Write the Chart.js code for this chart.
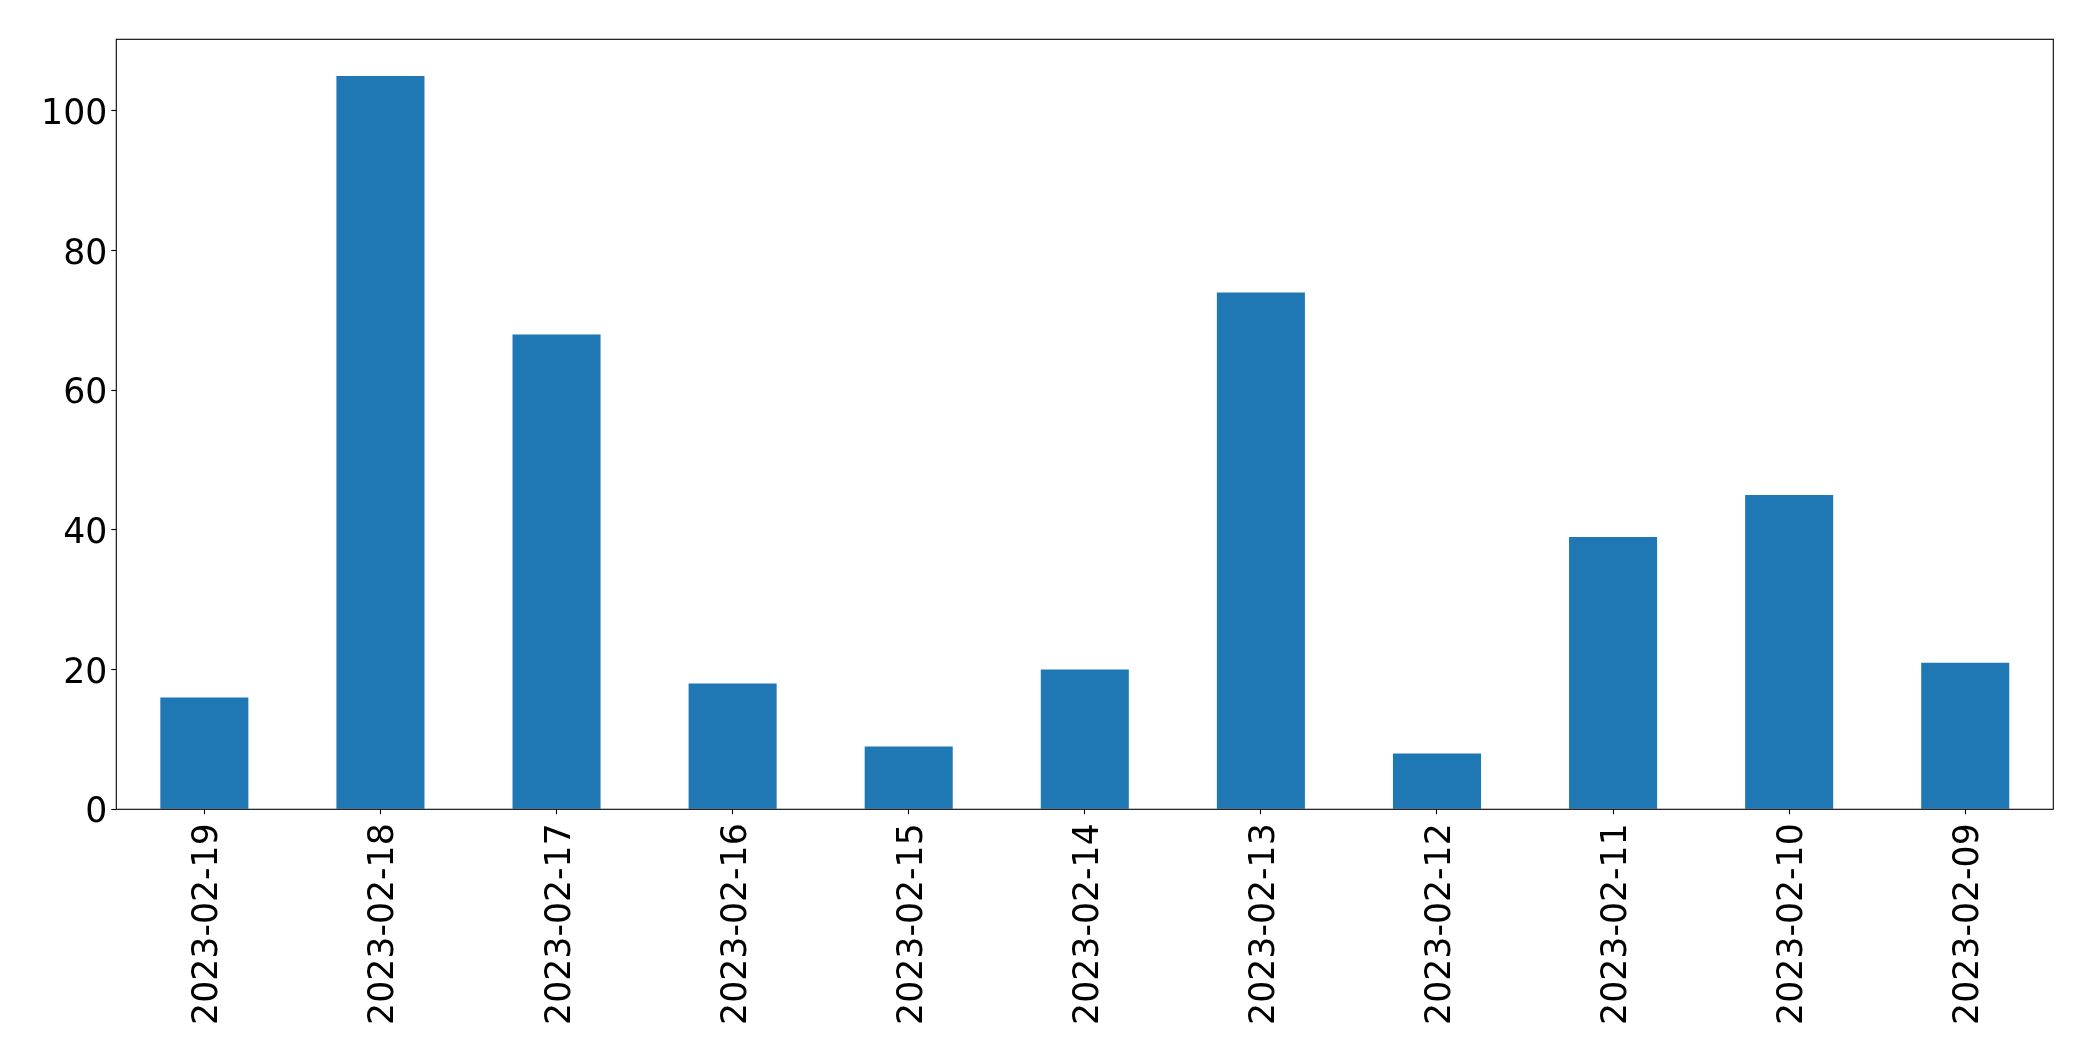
<!DOCTYPE html>
<html>
<head>
<meta charset="utf-8">
<script src="https://cdn.jsdelivr.net/npm/chart.js@4/dist/chart.umd.min.js"></script>
<style>
  html, body { margin: 0; padding: 0; background: #ffffff; }
  #wrap { width: 2093px; height: 1061px; }
</style>
</head>
<body>
<div id="wrap"><canvas id="c" width="2093" height="1061"></canvas></div>
<script>
const categories = ["2023-02-19","2023-02-18","2023-02-17","2023-02-16","2023-02-15","2023-02-14","2023-02-13","2023-02-12","2023-02-11","2023-02-10","2023-02-09"];
const counts = [16, 105, 68, 18, 9, 20, 74, 8, 39, 45, 21];
const yTicks = [0, 20, 40, 60, 80, 100];

const FONT = { family: "'DejaVu Sans', sans-serif", size: 34.7 };

const framePlugin = {
  id: 'frame',
  afterDatasetsDraw(chart) {
    const a = chart.chartArea;
    const ctx = chart.ctx;
    ctx.save();
    ctx.strokeStyle = '#000000';
    ctx.lineWidth = 1.1;
    ctx.strokeRect(a.left, a.top, a.right - a.left, a.bottom - a.top);
    ctx.restore();
  }
};

new Chart(document.getElementById('c'), {
  type: 'bar',
  data: {
    labels: categories,
    datasets: [{
      data: counts,
      backgroundColor: '#1f77b4',
      borderWidth: 0,
      barPercentage: 0.5,
      categoryPercentage: 1.0
    }]
  },
  options: {
    responsive: false,
    animation: false,
    devicePixelRatio: 1,
    layout: { padding: { top: 39.3, right: 39.7, left: 0, bottom: 0 } },
    plugins: { legend: { display: false }, tooltip: { enabled: false } },
    scales: {
      x: {
        offset: true,
        border: { display: false },
        grid: { drawOnChartArea: false, drawTicks: true, tickLength: 5, tickColor: '#000000', tickWidth: 1.1, offset: false },
        ticks: {
          color: '#000000', font: FONT, minRotation: 90, maxRotation: 90,
          padding: 9, autoSkip: false, labelOffset: 4
        },
        afterFit(scale) { scale.height = 1061 - 809.3; }
      },
      y: {
        min: 0,
        max: 110.25,
        border: { display: false },
        grid: { drawOnChartArea: false, drawTicks: true, tickLength: 5, tickColor: '#000000', tickWidth: 1.1 },
        ticks: { color: '#000000', font: FONT, stepSize: 20, padding: 4, labelOffset: 4 },
        afterBuildTicks(scale) {
          scale.ticks = yTicks.map(v => ({ value: v }));
        },
        afterFit(scale) { scale.width = 116.3; }
      }
    }
  },
  plugins: [framePlugin]
});
</script>
</body>
</html>
